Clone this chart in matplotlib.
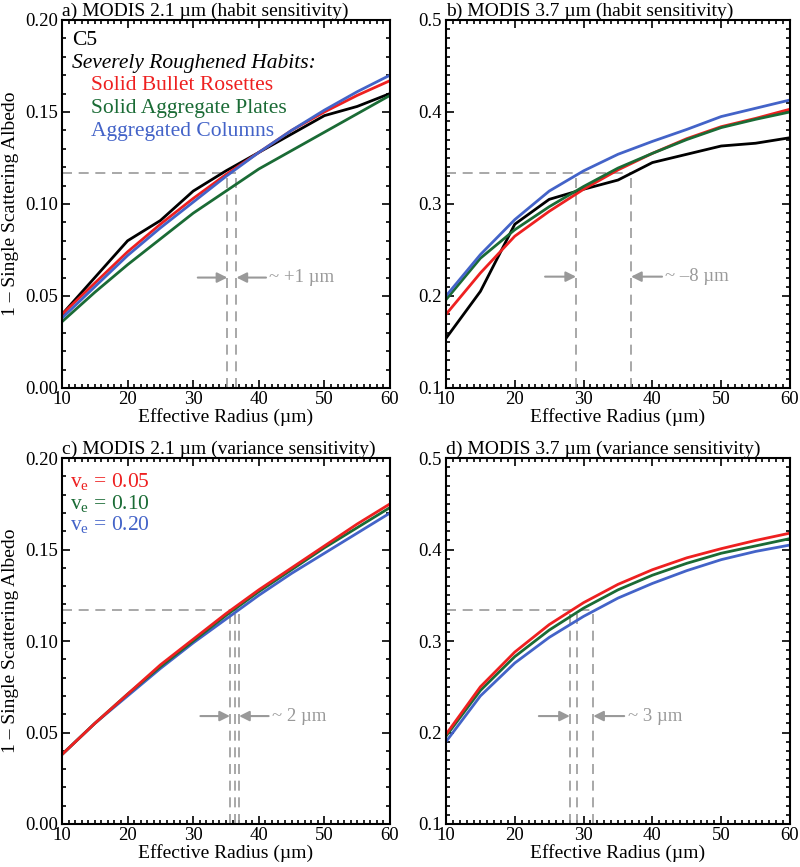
import numpy as np
import matplotlib
matplotlib.use('Agg')
import matplotlib.pyplot as plt
from matplotlib.ticker import MultipleLocator

plt.rcParams['font.family'] = ['Liberation Serif', 'DejaVu Serif']
plt.rcParams['mathtext.fontset'] = 'custom'
plt.rcParams['mathtext.rm'] = 'Liberation Serif'

#--data
reff = [10, 15, 20, 25, 30, 35, 40, 45, 50, 55, 60]

# a) 2.1 um habit
a_black = [0.040, 0.060, 0.080, 0.091, 0.107, 0.118, 0.128, 0.138, 0.148, 0.153, 0.160]
a_red   = [0.040, 0.057, 0.074, 0.089, 0.103, 0.116, 0.128, 0.140, 0.150, 0.159, 0.167]
a_green = [0.036, 0.052, 0.067, 0.081, 0.095, 0.107, 0.119, 0.129, 0.139, 0.149, 0.159]
a_blue  = [0.038, 0.055, 0.072, 0.087, 0.101, 0.115, 0.128, 0.140, 0.151, 0.161, 0.170]

# b) 3.7 um habit
b_black = [0.154, 0.205, 0.278, 0.305, 0.316, 0.326, 0.345, 0.354, 0.363, 0.366, 0.372]
b_red   = [0.180, 0.225, 0.265, 0.292, 0.316, 0.337, 0.355, 0.371, 0.384, 0.393, 0.403]
b_green = [0.196, 0.241, 0.272, 0.297, 0.319, 0.339, 0.355, 0.370, 0.383, 0.392, 0.400]
b_blue  = [0.200, 0.245, 0.283, 0.314, 0.336, 0.354, 0.368, 0.381, 0.395, 0.404, 0.413]

# c) 2.1 um variance
c_005 = [0.038, 0.055, 0.071, 0.087, 0.101, 0.115, 0.128, 0.140, 0.152, 0.164, 0.175]
c_010 = [0.038, 0.055, 0.071, 0.086, 0.100, 0.114, 0.127, 0.139, 0.151, 0.162, 0.173]
c_020 = [0.038, 0.055, 0.070, 0.085, 0.099, 0.112, 0.125, 0.137, 0.148, 0.159, 0.170]

# d) 3.7 um variance
d_005 = [0.198, 0.250, 0.288, 0.318, 0.342, 0.362, 0.378, 0.391, 0.401, 0.410, 0.418]
d_010 = [0.196, 0.246, 0.283, 0.312, 0.336, 0.356, 0.372, 0.385, 0.396, 0.404, 0.412]
d_020 = [0.190, 0.240, 0.276, 0.304, 0.327, 0.347, 0.363, 0.377, 0.389, 0.398, 0.405]

habit_labels = ['Solid Bullet Rosettes', 'Solid Aggregate Plates', 'Aggregated Columns']
ve_labels = ['0.05', '0.10', '0.20']

#--retrieval markers: (ssa level, radii, arrow y, text)
a_mark = (0.117, [35.2, 36.6], 0.060, '~ +1 \u00b5m')
b_mark = (0.334, [28.9, 36.9], 0.221, '~ \u20138 \u00b5m')
c_mark = (0.117, [35.6, 36.3, 37.0], 0.059, '~ 2 \u00b5m')
d_mark = (0.334, [28.0, 29.0, 31.4], 0.218, '~ 3 \u00b5m')

RED, GREEN, BLUE = '#ee2020', '#1a6b35', '#4363c8'
GRAY = '#999999'

fig = plt.figure(figsize=(8, 8.67), dpi=100)
ax_a = fig.add_axes([0.0775, 0.5525, 0.41, 0.4245])
ax_b = fig.add_axes([0.5575, 0.5525, 0.43, 0.4245])
ax_c = fig.add_axes([0.0775, 0.0496, 0.41, 0.422])
ax_d = fig.add_axes([0.5575, 0.0496, 0.43, 0.422])


def style(ax, ylo, yhi, ymaj, ymin, fmt, title):
    ax.set_xlim(10, 60)
    ax.set_ylim(ylo, yhi)
    ax.xaxis.set_major_locator(MultipleLocator(10))
    ax.xaxis.set_minor_locator(MultipleLocator(1))
    ax.yaxis.set_minor_locator(MultipleLocator(ymin))
    yt = np.arange(ylo, yhi + ymaj / 2, ymaj)
    ax.set_yticks(yt)
    ax.set_yticklabels([fmt % v for v in yt])
    ax.tick_params(axis='both', which='both', direction='in', top=True, right=True,
                   labelsize=13.5, width=1.2, pad=2)
    ax.tick_params(axis='y', pad=3)
    ax.tick_params(which='major', length=6)
    ax.tick_params(which='minor', length=3)
    for s in ax.spines.values():
        s.set_linewidth(1.5)
    ax.set_xlabel('Effective Radius (\u00b5m)', size=14, labelpad=0)
    ax.set_title(title, size=14, loc='left', pad=2, x=0.0)


def markers(ax, mark, ylo):
    lev, radii, yarr, txt = mark
    ax.plot([10, max(radii)], [lev, lev], ls=(0, (6, 4)), color=GRAY, lw=1.2)
    for r in radii:
        ax.plot([r, r], [ylo, lev], ls=(0, (6, 4)), color=GRAY, lw=1.2)
    lo, hi = min(radii), max(radii)
    ap = dict(arrowstyle='-|>', color=GRAY, lw=1.5, mutation_scale=15,
              shrinkA=0, shrinkB=0)
    ax.annotate('', xy=(lo, yarr), xytext=(lo - 4.5, yarr), arrowprops=ap)
    ax.annotate('', xy=(hi, yarr), xytext=(hi + 4.5, yarr), arrowprops=ap)
    ax.text(hi + 5.0, yarr, txt, color=GRAY, size=13.5, va='center', ha='left')


#--a
markers(ax_a, a_mark, 0.0)
ax_a.plot(reff, a_black, color='black', lw=2)
ax_a.plot(reff, a_red, color=RED, lw=2)
ax_a.plot(reff, a_green, color=GREEN, lw=2)
ax_a.plot(reff, a_blue, color=BLUE, lw=2)
style(ax_a, 0.0, 0.20, 0.05, 0.01, '%.2f', 'a) MODIS 2.1 \u00b5m (habit sensitivity)')
ax_a.set_ylabel('1 \u2013 Single Scattering Albedo', size=14, labelpad=4)
ax_a.text(0.03, 0.944, 'C5', transform=ax_a.transAxes, size=15.5, va='center')
ax_a.text(0.03, 0.883, 'Severely Roughened Habits:', transform=ax_a.transAxes,
          size=15.5, va='center', style='italic')
for i, (lab, col) in enumerate(zip(habit_labels, [RED, GREEN, BLUE])):
    ax_a.text(0.088, 0.821 - i * 0.062, lab, transform=ax_a.transAxes, size=15.5,
              va='center', color=col)

#--b
markers(ax_b, b_mark, 0.1)
ax_b.plot(reff, b_black, color='black', lw=2)
ax_b.plot(reff, b_red, color=RED, lw=2)
ax_b.plot(reff, b_green, color=GREEN, lw=2)
ax_b.plot(reff, b_blue, color=BLUE, lw=2)
style(ax_b, 0.1, 0.5, 0.1, 0.01, '%.1f', 'b) MODIS 3.7 \u00b5m (habit sensitivity)')

#--c
markers(ax_c, c_mark, 0.0)
ax_c.plot(reff, c_020, color=BLUE, lw=2)
ax_c.plot(reff, c_010, color=GREEN, lw=2)
ax_c.plot(reff, c_005, color=RED, lw=2)
style(ax_c, 0.0, 0.20, 0.05, 0.01, '%.2f', 'c) MODIS 2.1 \u00b5m (variance sensitivity)')
ax_c.set_ylabel('1 \u2013 Single Scattering Albedo', size=14, labelpad=4)
for i, (lab, col) in enumerate(zip(ve_labels, [RED, GREEN, BLUE])):
    ax_c.text(0.025, 0.934 - i * 0.059, r'v$_\mathrm{e}$ = ' + lab,
              transform=ax_c.transAxes, size=15.5, va='center', color=col)

#--d
markers(ax_d, d_mark, 0.1)
ax_d.plot(reff, d_020, color=BLUE, lw=2)
ax_d.plot(reff, d_010, color=GREEN, lw=2)
ax_d.plot(reff, d_005, color=RED, lw=2)
style(ax_d, 0.1, 0.5, 0.1, 0.01, '%.1f', 'd) MODIS 3.7 \u00b5m (variance sensitivity)')

fig.savefig('out.png', dpi=100)
